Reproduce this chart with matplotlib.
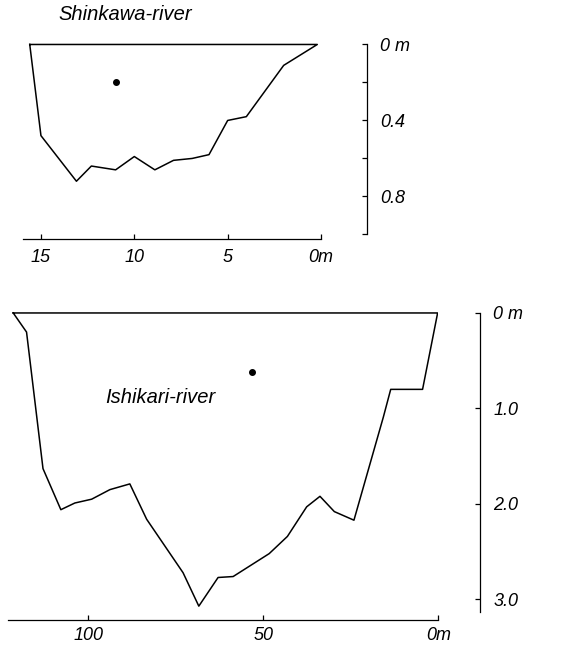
import matplotlib.pyplot as plt

plt.rcParams['font.family'] = ['Liberation Sans', 'DejaVu Sans']
plt.rcParams['font.style'] = 'italic'

# Shinkawa-river cross section: distance from bank (m), depth (m)
shin_dist = [15.6, 15.0, 13.1, 12.3, 11.0, 10.0, 8.9, 7.9, 6.9, 6.0, 5.0, 4.0, 2.0, 0.2]
shin_depth = [0.0, 0.48, 0.72, 0.64, 0.66, 0.59, 0.66, 0.61, 0.60, 0.58, 0.40, 0.38, 0.11, 0.0]
shin_point = (11.0, 0.20)
shin_xticks = [15, 10, 5, 0]
shin_xlabels = ['15', '10', '5', '0m']
shin_yticks = [0, 0.2, 0.4, 0.6, 0.8, 1.0]
shin_ylabels = ['0 m', '', '0.4', '', '0.8', '']

# Ishikari-river cross section
ishi_dist = [121.4, 117.6, 112.9, 107.8, 103.8, 99.0, 93.8, 88.1, 83.3, 72.9, 68.4,
             62.9, 58.6, 48.3, 43.1, 37.6, 33.8, 29.7, 24.1, 15.7, 13.6, 4.5, 0.2]
ishi_depth = [0.0, 0.20, 1.63, 2.06, 1.99, 1.95, 1.85, 1.79, 2.16, 2.72, 3.07,
              2.77, 2.76, 2.52, 2.34, 2.03, 1.92, 2.08, 2.17, 1.09, 0.80, 0.80, 0.0]
ishi_point = (53.3, 0.615)
ishi_xticks = [100, 50, 0]
ishi_xlabels = ['100', '50', '0m']
ishi_yticks = [0, 1, 2, 3]
ishi_ylabels = ['0 m', '1.0', '2.0', '3.0']

FS = 13


def draw_section(fig, main_rect, scale_x, xlim, ylim, dist, depth, point,
                 xticks, xlabels, yticks, ylabels, scale_top, xpad):
    ax = fig.add_axes(main_rect)
    ax.plot(dist + [dist[0]], depth + [depth[0]], color='black', lw=1.1)
    ax.plot(*point, 'o', color='black', ms=4)
    ax.set_xlim(xlim)
    ax.set_ylim(ylim)
    for s in ['top', 'left', 'right']:
        ax.spines[s].set_visible(False)
    ax.spines['bottom'].set_linewidth(0.9)
    ax.set_yticks([])
    ax.set_xticks(xticks)
    ax.set_xticklabels(xlabels, fontsize=FS)
    ax.tick_params(axis='x', direction='in', length=3.6, width=0.9, pad=xpad)

    sc = fig.add_axes([scale_x, main_rect[1], 0.002, main_rect[3]])
    sc.set_ylim(ylim)
    for s in ['top', 'bottom', 'right']:
        sc.spines[s].set_visible(False)
    sc.spines['left'].set_bounds(0, scale_top)
    sc.spines['left'].set_linewidth(0.9)
    sc.set_xticks([])
    sc.set_yticks(yticks)
    sc.set_yticklabels(ylabels, fontsize=FS)
    sc.yaxis.set_ticks_position('left')
    sc.tick_params(axis='y', direction='out', length=3.6, width=0.9,
                   labelleft=False, labelright=True, pad=5)
    sc.patch.set_visible(False)
    return ax


fig = plt.figure(figsize=(5.7, 6.56), dpi=100)

draw_section(fig, [0.0404, 0.6357, 0.5228, 0.3023], 0.6439, (15.96, 0), (1.024, -0.02),
             shin_dist, shin_depth, shin_point, shin_xticks, shin_xlabels,
             shin_yticks, shin_ylabels, 1.0, 7)
fig.text(58 / 570, 1 - 15 / 656, 'Shinkawa-river', fontsize=14.5, va='center', ha='left')

ax2 = draw_section(fig, [0.014, 0.0549, 0.755, 0.4753], 0.8421, (122.9, 0), (3.215, -0.05),
                   ishi_dist, ishi_depth, ishi_point, ishi_xticks, ishi_xlabels,
                   ishi_yticks, ishi_ylabels, 3.13, 5)
ax2.text(95, 0.88, 'Ishikari-river', fontsize=14.5, va='center', ha='left')

fig.savefig('out.png', dpi=100)
